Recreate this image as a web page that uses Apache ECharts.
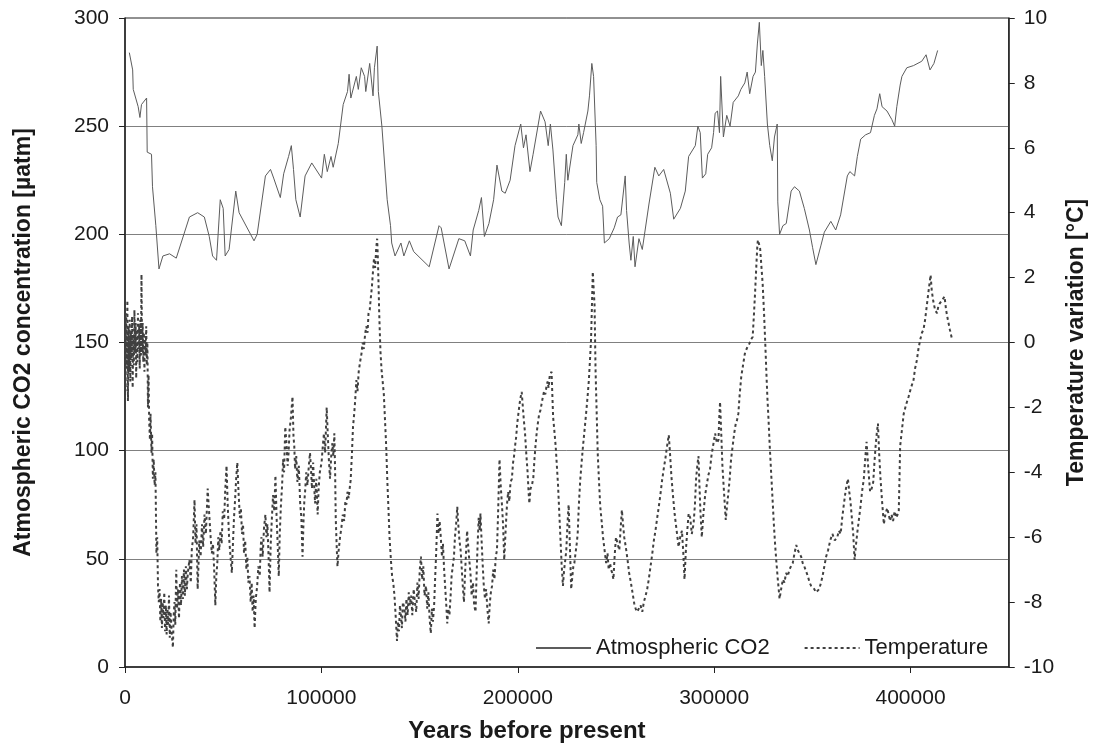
<!DOCTYPE html>
<html>
<head>
<meta charset="utf-8">
<title>Vostok CO2 and temperature</title>
<script src="https://cdn.jsdelivr.net/npm/echarts@6/dist/echarts.min.js"></script>
<style>
  html, body { margin: 0; padding: 0; background: #fff; }
  #chart { width: 1096px; height: 748px; }
</style>
</head>
<body>
<div id="chart"></div>
<script>
// [years before present, ppm]
const co2Data = [
  [2200,284],[3900,276],[4200,267],[6700,259],[7600,254],[8400,260],[11000,263],[11300,238],[13500,237],[14000,222],
  [15700,204],[17300,184],[19300,190],[22700,191],[26100,189],[32800,208],[37000,210],[40400,208],[42900,199],[44600,190],
  [46600,188],[48500,216],[50000,212],[51000,190],[53000,193],[56400,220],[58100,210],[65700,197],[67300,200],[71500,227],
  [74100,230],[75700,226],[79100,217],[80800,228],[83300,236],[84700,241],[85800,230],[87000,216],[89200,208],[91700,227],
  [95100,233],[100100,226],[101500,237],[103000,229],[104900,236],[106000,231],[108600,242],[111100,260],[113300,266],[114100,274],
  [115000,263],[117800,273],[118800,267],[120300,277],[122000,273],[122600,266],[124600,279],[126300,264],[127000,277],[128400,287],
  [129000,266],[130800,250],[133500,216],[135200,204],[135800,196],[137500,190],[140500,196],[142000,190],[144800,197],[147000,192],
  [154900,185],[159900,204],[161000,203],[165000,184],[170000,198],[173000,197],[175900,190],[177300,202],[180100,211],[181500,217],
  [183000,199],[185300,205],[187700,216],[189400,232],[191900,220],[193600,219],[196100,225],[198600,241],[201500,251],[202900,240],
  [204200,246],[206200,229],[207800,237],[211600,257],[213900,252],[215500,241],[216600,251],[217900,239],[219700,216],[220500,208],
  [222200,204],[223900,224],[224700,237],[225500,225],[228100,241],[230600,246],[231100,251],[232300,242],[233500,247],[235700,257],
  [236500,264],[237700,279],[238600,273],[239900,241],[240200,224],[241800,216],[243200,213],[244100,196],[246600,198],[249100,203],
  [250800,208],[252500,209],[254700,227],[255400,211],[256700,196],[257600,188],[258800,199],[259700,185],[261700,198],[263400,193],
  [266800,214],[269800,231],[271800,227],[274300,230],[277700,219],[279400,207],[282800,212],[285300,220],[287000,236],[290400,241],
  [291700,250],[292900,247],[294000,226],[295700,228],[296700,237],[298700,240],[299700,247],[300500,256],[301700,257],[302700,247],
  [303300,273],[304700,245],[306400,255],[308100,250],[309700,261],[312300,264],[313600,267],[315600,270],[316800,275],[318100,265],
  [319800,273],[321000,275],[322000,288],[323000,298],[324000,278],[324800,285],[325700,273],[327100,251],[328300,241],[329600,234],
  [330700,245],[332100,251],[332400,215],[333300,200],[335000,204],[336700,205],[339200,220],[340900,222],[343400,220],[345900,212],
  [348500,202],[350100,194],[351800,186],[354400,195],[356100,201],[359400,206],[361900,202],[364400,209],[367800,227],[369100,229],
  [371500,227],[372900,236],[374600,244],[377100,246],[379600,247],[381600,255],[382900,258],[384300,265],[385500,259],[388000,257],
  [390500,253],[391900,250],[393000,259],[394700,269],[395600,273],[398100,277],[401500,278],[405700,280],[407900,283],[409900,276],
  [411900,279],[413800,285]
];

// [years before present, degC]
const tempData = [
  [0,0.2],[300,-1.5],[600,0.9],[900,-0.8],[1200,1.3],[1500,-1.8],[1800,0.5],[2100,-0.9],[2400,0.7],[2700,-1.2],
  [3000,0.3],[3300,-0.5],[3600,0.8],[3900,-1.4],[4200,0.2],[4500,-0.7],[4800,1.0],[5100,-0.3],[5400,0.6],[5700,-1.1],
  [6000,0.4],[6300,-0.6],[6600,0.9],[6900,-0.2],[7200,0.5],[7500,-0.8],[7800,0.7],[8100,-0.4],[8400,2.1],[8700,-0.3],
  [9000,0.6],[9300,-0.6],[9600,0.3],[9900,-0.9],[10200,0.2],[10500,-0.4],[10800,0.5],[11100,-0.7],[11400,0.0],[11700,-2.0],
  [12000,-1.0],[12300,-2.4],[12700,-3.0],[13000,-2.2],[13500,-3.4],[13800,-2.8],[14200,-4.2],[14600,-3.6],[15100,-4.4],[15500,-4.0],
  [16000,-6.5],[16400,-6.0],[16800,-7.5],[17200,-8.0],[17600,-7.6],[18000,-8.6],[18400,-7.9],[18800,-8.8],[19200,-8.0],[19600,-8.5],
  [20000,-7.7],[20400,-8.9],[20800,-8.1],[21200,-9.0],[21600,-8.2],[22000,-8.7],[22400,-7.8],[22800,-9.1],[23200,-8.3],[23700,-8.9],
  [24400,-9.4],[24800,-8.4],[25200,-8.0],[25600,-8.7],[26100,-7.0],[26500,-8.2],[27000,-7.6],[27500,-8.5],[28000,-7.4],[28500,-8.1],
  [29000,-7.2],[29500,-7.9],[30000,-7.0],[30500,-7.8],[31000,-6.9],[31500,-7.6],[32000,-7.1],[32800,-6.7],[33500,-7.4],[34000,-6.4],
  [34700,-6.0],[35400,-4.85],[35900,-6.2],[36400,-5.6],[37000,-7.6],[37400,-6.9],[37800,-6.1],[38500,-6.6],[39200,-5.6],[39800,-6.3],
  [40500,-5.3],[41200,-5.9],[42100,-4.5],[42600,-5.0],[43000,-5.4],[43600,-6.0],[44200,-6.5],[44800,-6.2],[45400,-7.0],[46000,-8.1],
  [46500,-7.2],[47000,-6.8],[47500,-6.0],[48000,-6.4],[48600,-5.8],[49200,-6.2],[49800,-5.2],[50500,-5.45],[51000,-4.6],[51700,-3.8],
  [52300,-5.0],[53000,-6.0],[53600,-6.5],[54400,-7.1],[54900,-6.3],[55500,-5.4],[56100,-4.8],[56600,-4.2],[57200,-3.7],[57800,-4.6],
  [58500,-5.4],[59000,-5.1],[59600,-5.9],[60100,-5.6],[60600,-6.5],[61200,-6.1],[61800,-7.0],[62300,-6.6],[62800,-7.4],[63400,-7.2],
  [64000,-8.0],[64500,-7.4],[65000,-8.3],[65500,-7.8],[66000,-8.8],[66600,-7.9],[67300,-7.5],[67900,-6.9],[68600,-7.2],[69100,-6.3],
  [69500,-6.0],[70100,-6.6],[70800,-5.7],[71500,-5.3],[72000,-6.0],[72500,-5.6],[73100,-6.6],[73600,-7.7],[74200,-6.2],[74800,-5.4],
  [75400,-4.7],[76000,-5.2],[76600,-4.1],[77200,-5.4],[77800,-6.3],[78300,-7.2],[78800,-5.9],[79400,-5.0],[80000,-4.4],[80500,-3.6],
  [81000,-4.0],[81600,-2.6],[82200,-3.1],[82800,-3.8],[83300,-3.4],[83800,-2.7],[84500,-2.3],[85300,-1.67],[85800,-2.9],[86200,-3.2],
  [86600,-3.9],[87200,-3.5],[87800,-4.3],[88500,-3.8],[89200,-4.96],[89800,-5.4],[90400,-6.6],[90900,-5.5],[91300,-4.9],[91700,-4.6],
  [92300,-4.0],[92900,-4.4],[93600,-3.8],[94200,-3.4],[94700,-3.9],[95200,-4.5],[95800,-3.7],[96300,-4.4],[96800,-4.96],[97400,-4.2],
  [98100,-5.3],[98600,-4.5],[99200,-4.0],[100100,-3.7],[100700,-3.2],[101300,-2.8],[101900,-3.4],[102700,-2.0],[103300,-2.9],[103800,-3.6],
  [104400,-4.2],[105000,-3.5],[105600,-3.1],[106100,-3.5],[106600,-2.8],[107000,-4.0],[107300,-5.4],[107800,-6.3],[108200,-6.9],[108800,-6.4],
  [109500,-6.0],[110200,-5.7],[110900,-5.3],[111600,-5.5],[112200,-4.9],[112700,-5.0],[113300,-4.6],[113900,-4.8],[114400,-4.5],[114900,-4.24],
  [115500,-3.5],[116100,-2.6],[116700,-2.2],[117200,-1.8],[117800,-1.16],[118400,-1.5],[119000,-0.9],[119700,-0.6],[120400,-0.35],[121000,0.0],
  [121600,-0.2],[122300,0.28],[122900,0.5],[123500,0.3],[124000,0.9],[124600,1.0],[125200,1.4],[125700,1.7],[126200,2.13],[126800,2.6],
  [127400,2.3],[127900,2.9],[128400,3.2],[128800,2.5],[129100,1.8],[129400,1.0],[129700,0.4],[130100,-0.3],[130700,-0.9],[131200,-1.2],
  [131800,-1.6],[132400,-2.4],[133000,-3.2],[133600,-4.3],[134200,-5.2],[134700,-6.0],[135400,-6.7],[136000,-7.2],[136600,-7.4],[137200,-7.8],
  [137800,-8.4],[138500,-9.2],[139000,-8.6],[139500,-8.9],[140000,-8.1],[140500,-8.4],[141000,-8.8],[141500,-8.0],[142300,-8.2],[142800,-8.6],
  [143300,-7.9],[143900,-8.4],[144500,-7.7],[145000,-8.1],[145700,-7.8],[146300,-8.4],[147000,-7.6],[147600,-8.0],[148300,-8.3],[148900,-7.4],
  [149500,-7.9],[150100,-7.0],[150700,-6.6],[151300,-7.3],[151900,-6.9],[152500,-7.8],[153300,-7.5],[153900,-8.2],[154500,-7.7],[155100,-8.5],
  [155700,-8.96],[156300,-8.2],[156800,-8.6],[157400,-8.1],[157900,-7.3],[158500,-6.4],[159100,-5.27],[159600,-5.9],[160200,-5.5],[160800,-6.0],
  [161400,-6.6],[161900,-6.2],[162500,-7.0],[163100,-7.6],[163600,-8.1],[164100,-8.66],[164600,-8.2],[165200,-8.4],[165800,-7.8],[166300,-7.2],
  [166900,-6.9],[167500,-6.6],[168000,-6.0],[168600,-5.6],[169200,-5.06],[169700,-5.6],[170300,-6.1],[170900,-6.4],[171500,-7.0],[172000,-7.5],
  [172600,-8.0],[173100,-7.2],[173700,-6.4],[174200,-5.8],[174800,-6.3],[175300,-6.7],[175900,-7.1],[176500,-7.8],[177200,-7.4],[177800,-8.1],
  [178500,-8.3],[179000,-7.2],[179500,-6.3],[180100,-5.4],[180600,-5.8],[181000,-5.27],[181500,-6.0],[182100,-6.8],[182700,-7.5],[183300,-7.9],
  [183900,-7.6],[184500,-8.2],[185200,-8.66],[185800,-8.0],[186300,-7.7],[186900,-7.5],[187500,-7.0],[188100,-7.3],[188800,-6.6],[189400,-6.4],
  [190000,-5.2],[190700,-3.6],[191300,-4.4],[191900,-4.96],[192500,-5.6],[193100,-6.7],[193800,-5.8],[194500,-5.0],[195100,-4.6],[195700,-4.9],
  [196300,-4.3],[197000,-4.2],[197600,-3.7],[198100,-3.5],[198600,-3.2],[199200,-2.9],[199700,-2.5],[200300,-2.2],[200900,-1.9],[201400,-1.7],
  [202000,-1.52],[202600,-2.0],[203100,-2.4],[203700,-2.8],[204300,-3.4],[205000,-4.0],[205500,-4.6],[205900,-4.96],[206500,-4.5],[207200,-4.4],
  [207900,-4.17],[208500,-3.6],[209000,-3.2],[209600,-2.8],[210200,-2.5],[210900,-2.2],[211500,-2.1],[212100,-1.9],[212700,-1.7],[213400,-1.5],
  [214000,-1.6],[214600,-1.36],[215200,-1.2],[215700,-1.4],[216300,-1.0],[217200,-0.9],[217600,-1.6],[218000,-2.3],[218600,-2.7],[219300,-3.2],
  [219900,-3.8],[220500,-4.4],[221100,-5.2],[221700,-6.0],[222300,-6.8],[223000,-7.5],[223600,-7.0],[224200,-6.7],[224700,-6.4],[225300,-5.6],
  [225900,-5.0],[226500,-6.2],[227200,-7.6],[227800,-7.2],[228300,-6.9],[228800,-6.8],[229400,-6.5],[230000,-6.2],[230500,-5.9],[231100,-5.0],
  [231800,-4.24],[232500,-3.7],[233200,-3.2],[234000,-2.7],[234800,-2.18],[235500,-1.7],[236200,-1.16],[236800,-0.5],[237300,0.08],[237700,1.0],
  [238200,2.18],[238600,1.7],[239100,1.15],[239600,-0.85],[240100,-2.0],[240700,-3.4],[241300,-4.2],[242000,-5.06],[242700,-5.5],[243400,-6.0],
  [244200,-6.4],[245000,-6.8],[245700,-6.5],[246300,-7.0],[247000,-6.8],[247500,-7.0],[248100,-7.1],[248700,-7.3],[249300,-6.6],[250000,-6.0],
  [250800,-6.2],[251700,-6.4],[252300,-5.8],[253000,-5.16],[253600,-5.6],[254200,-6.0],[255000,-6.3],[255900,-6.7],[256700,-7.1],[257600,-7.4],
  [258400,-7.7],[259300,-8.04],[260000,-8.2],[260800,-8.3],[261700,-8.35],[262500,-8.1],[263400,-8.3],[264200,-8.0],[265100,-7.8],[265900,-7.6],
  [266700,-7.3],[267600,-6.9],[268500,-6.5],[269300,-6.1],[270100,-5.8],[271000,-5.4],[271800,-5.06],[272600,-4.7],[273500,-4.24],[274300,-3.9],
  [275100,-3.6],[276000,-3.2],[276900,-2.85],[277500,-3.4],[278200,-4.1],[279000,-4.7],[279900,-5.3],[280900,-5.8],[281900,-6.3],[282700,-6.0],
  [283600,-5.8],[284300,-6.5],[284900,-7.3],[285600,-6.4],[286300,-5.8],[287000,-5.27],[287800,-5.4],[288600,-5.9],[289500,-5.6],[290200,-5.0],
  [290800,-4.2],[291400,-3.8],[292000,-3.5],[292500,-4.4],[293000,-5.2],[293700,-6.0],[294500,-5.3],[295400,-4.7],[296200,-4.4],[297000,-4.1],
  [297900,-3.9],[298600,-3.5],[299400,-3.2],[300500,-2.8],[301400,-3.1],[302200,-3.0],[302600,-2.3],[303000,-1.83],[303600,-2.8],[304200,-3.8],
  [305000,-4.6],[305900,-5.47],[306600,-5.0],[307300,-4.6],[307900,-4.2],[308600,-3.6],[309400,-3.2],[310200,-2.8],[311000,-2.5],[311600,-2.4],
  [312300,-2.2],[313000,-1.6],[313800,-1.05],[314700,-0.7],[315600,-0.35],[316500,-0.2],[317200,-0.1],[318000,-0.03],[318800,0.1],[319600,0.17],
  [320200,0.8],[320800,1.5],[321500,2.4],[322000,3.0],[322300,3.16],[322800,3.1],[323400,2.9],[324000,2.9],[324700,1.8],[325400,0.9],
  [326000,0.0],[326600,-0.95],[327100,-1.7],[327700,-2.4],[328300,-3.2],[329000,-4.0],[329700,-4.8],[330400,-5.6],[331000,-6.2],[331600,-6.7],
  [332400,-7.3],[333300,-7.9],[334100,-7.6],[335000,-7.3],[335800,-7.4],[336600,-7.1],[337500,-7.2],[338300,-7.0],[339100,-6.9],[340000,-6.8],
  [340900,-6.5],[341800,-6.24],[342600,-6.4],[343400,-6.5],[344300,-6.6],[345100,-6.8],[345900,-6.9],[346800,-6.9],[347700,-7.2],[348600,-7.4],
  [349400,-7.5],[350200,-7.5],[351000,-7.6],[351800,-7.7],[352700,-7.7],[353500,-7.6],[354400,-7.4],[355200,-7.2],[356100,-6.9],[357000,-6.6],
  [358000,-6.4],[359100,-6.1],[360200,-5.9],[361400,-6.1],[362700,-6.0],[363500,-5.8],[364400,-5.9],[365200,-5.4],[366100,-4.96],[367100,-4.5],
  [368100,-4.2],[368800,-4.6],[369400,-4.9],[370100,-5.4],[370800,-5.9],[371500,-6.7],[372100,-6.3],[372800,-5.9],[373600,-5.5],[374500,-5.06],
  [375300,-4.6],[376200,-4.2],[376900,-3.6],[377600,-3.06],[378500,-3.9],[379400,-4.6],[380200,-4.5],[381000,-4.3],[381600,-3.7],[382200,-3.2],
  [382800,-2.8],[383400,-2.5],[384000,-3.4],[384700,-4.2],[385500,-4.9],[386400,-5.6],[387200,-5.3],[388100,-5.1],[388900,-5.06],[389600,-5.5],
  [390300,-5.3],[391100,-5.5],[391900,-5.2],[392700,-5.4],[393400,-5.3],[394000,-5.2],[394400,-4.1],[394700,-3.2],[395600,-2.7],[396500,-2.2],
  [397800,-1.9],[399000,-1.67],[400200,-1.4],[401500,-1.16],[402300,-0.8],[403200,-0.55],[404000,-0.2],[404900,0.08],[405800,0.3],[406600,0.4],
  [407400,0.7],[408200,1.1],[409200,1.6],[410200,2.08],[410800,1.6],[411500,1.3],[412500,1.0],[413500,0.9],[414100,1.1],[414800,1.2],
  [416000,1.3],[417300,1.42],[418100,1.0],[419000,0.7],[420000,0.4],[421200,0.08]
];

const seriesNames = ['Atmospheric CO2', 'Temperature'];
const xTitle = 'Years before present';
const yLeftTitle = 'Atmospheric CO2 concentration [µatm]';
const yRightTitle = 'Temperature variation [°C]';

const font = 'Liberation Sans, Arial, sans-serif';
const ink = '#1a1a1a';
const titleStyle = { fontSize: 23, fontWeight: 'bold', color: ink, fontFamily: font };

const chart = echarts.init(document.getElementById('chart'));
chart.setOption({
  animation: false,
  backgroundColor: '#fff',
  textStyle: { fontFamily: font },
  grid: { left: 125, right: 81, top: 18, bottom: 81, show: true, borderColor: '#222', borderWidth: 1 },
  legend: {
    left: 530, top: 632,
    itemWidth: 55, itemHeight: 14, itemGap: 34,
    itemStyle: { opacity: 0 },
    textStyle: { fontSize: 22, color: ink, fontFamily: font },
    data: seriesNames
  },
  xAxis: {
    type: 'value', min: 0, max: 450000, interval: 100000,
    name: xTitle, nameLocation: 'middle', nameGap: 52,
    nameTextStyle: Object.assign({ padding: [0, 80, 0, 0] }, titleStyle, { fontSize: 24 }),
    axisLine: { lineStyle: { color: '#222', width: 1.5 } },
    axisTick: { length: 6, lineStyle: { color: '#222' } },
    axisLabel: { fontSize: 21, color: ink, margin: 21, showMaxLabel: false, formatter: v => (v % 100000 === 0 ? String(v) : '') },
    splitLine: { show: false }
  },
  yAxis: [
    {
      type: 'value', min: 0, max: 300, interval: 50,
      name: yLeftTitle, nameLocation: 'middle', nameRotate: 90, nameGap: 90,
      nameTextStyle: titleStyle,
      axisLine: { show: true, lineStyle: { color: '#222', width: 1.5 } },
      axisTick: { show: true, length: 6, lineStyle: { color: '#222' } },
      axisLabel: { fontSize: 21, color: ink, margin: 16 },
      splitLine: { show: true, showMinLine: false, showMaxLine: false, lineStyle: { color: '#808080', width: 1 } }
    },
    {
      type: 'value', min: -10, max: 10, interval: 2, position: 'right',
      name: yRightTitle, nameLocation: 'middle', nameRotate: 90, nameGap: 56,
      nameTextStyle: titleStyle,
      axisLine: { show: true, lineStyle: { color: '#222', width: 1.5 } },
      axisTick: { show: true, length: 6, lineStyle: { color: '#222' } },
      axisLabel: { fontSize: 21, color: ink, margin: 15 },
      splitLine: { show: false }
    }
  ],
  series: [
    {
      name: seriesNames[0], type: 'line', yAxisIndex: 0,
      data: co2Data, symbol: 'none', z: 3,
      lineStyle: { color: '#5c5c5c', width: 1 },
      itemStyle: { color: '#5c5c5c' }
    },
    {
      name: seriesNames[1], type: 'line', yAxisIndex: 1,
      data: tempData, symbol: 'none', z: 2,
      lineStyle: { color: '#404040', width: 2, type: [3, 3] },
      itemStyle: { color: '#404040' }
    }
  ]
});
</script>
</body>
</html>
